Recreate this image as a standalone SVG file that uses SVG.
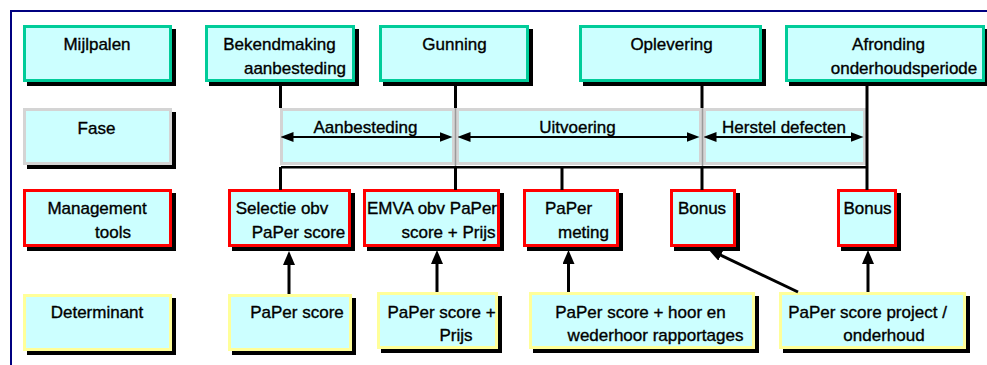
<svg xmlns="http://www.w3.org/2000/svg" width="987" height="365" viewBox="0 0 987 365">
  <style>
    text { font-family: "Liberation Sans", Arial, sans-serif; font-size: 17px; fill: #000; stroke: #000; stroke-width: 0.35; text-anchor: middle; }
    .shadow { fill: #000; }
    .box { fill: #CCFFFF; stroke-width: 3; }
    .mile { stroke: #00CC99; }
    .phase { stroke: #D4D4D4; }
    .tool { stroke: #FF0000; }
    .det { stroke: #FFFF99; }
    .link { stroke: #000; stroke-width: 3; fill: none; }
    .span { stroke: #000; stroke-width: 2; fill: none; marker-start: url(#head-s); marker-end: url(#head-s); }
    .arrow { stroke: #000; stroke-width: 3; fill: none; marker-end: url(#head-l); }
  </style>
  <defs>
    <marker id="head-s" viewBox="0 0 13 10" refX="9" refY="5" markerWidth="13" markerHeight="10" markerUnits="userSpaceOnUse" orient="auto-start-reverse">
      <path d="M0,0 L13,5 L0,10 z" fill="#000"/>
    </marker>
    <marker id="head-l" viewBox="0 0 14 12" refX="9" refY="6" markerWidth="14" markerHeight="12" markerUnits="userSpaceOnUse" orient="auto">
      <path d="M0,0 L14,6 L0,12 z" fill="#000"/>
    </marker>
  </defs>

  <rect width="987" height="365" fill="#fff"/>
  <!-- outer frame -->
  <path d="M11,366 V11 H988" fill="none" stroke="#000080" stroke-width="2"/>

  <!-- milestone row -->
  <g id="mijlpalen">
    <rect class="shadow" x="27" y="29" width="149" height="57"/>
    <rect class="box mile" x="24.5" y="26.5" width="146" height="54"/>
    <text x="97" y="50">Mijlpalen</text>
  </g>
  <g id="bekendmaking">
    <rect class="shadow" x="209" y="29" width="150" height="57"/>
    <rect class="box mile" x="206.5" y="26.5" width="147" height="54"/>
    <text x="279.5" y="50">Bekendmaking</text>
    <text x="295" y="73.5">aanbesteding</text>
  </g>
  <g id="gunning">
    <rect class="shadow" x="383" y="29" width="150" height="57"/>
    <rect class="box mile" x="380.5" y="26.5" width="147" height="54"/>
    <text x="454.5" y="50">Gunning</text>
  </g>
  <g id="oplevering">
    <rect class="shadow" x="583" y="29" width="183" height="57"/>
    <rect class="box mile" x="580.5" y="26.5" width="180" height="54"/>
    <text x="671.5" y="50">Oplevering</text>
  </g>
  <g id="afronding">
    <rect class="shadow" x="789" y="29" width="200" height="57"/>
    <rect class="box mile" x="786.5" y="26.5" width="197" height="54"/>
    <text x="888.5" y="50">Afronding</text>
    <text x="904" y="73.5">onderhoudsperiode</text>
  </g>

  <!-- phase row -->
  <g id="fase">
    <rect class="shadow" x="27" y="112" width="149" height="57"/>
    <rect class="box phase" x="24.5" y="109.5" width="146" height="54"/>
    <text x="96.5" y="134">Fase</text>
  </g>
  <g id="phase-bars">
    <rect class="shadow" x="281" y="166" width="587" height="2.5"/>
    <rect class="box phase" x="281.5" y="109.5" width="172" height="54"/>
    <rect class="box phase" x="457.5" y="109.5" width="243" height="54"/>
    <rect class="box phase" x="704.5" y="109.5" width="160" height="54"/>
    <line x1="455.5" y1="108" x2="455.5" y2="166" stroke="#9A9A9A" stroke-width="1.5"/>
    <line x1="702.5" y1="108" x2="702.5" y2="166" stroke="#9A9A9A" stroke-width="1.5"/>
  </g>
  <g id="aanbesteding">
    <text x="365.5" y="133">Aanbesteding</text>
  </g>
  <g id="uitvoering">
    <text x="577.5" y="133">Uitvoering</text>
  </g>
  <g id="herstel">
    <text x="784" y="133">Herstel defecten</text>
  </g>

  <!-- management tools row -->
  <g id="management">
    <rect class="shadow" x="27" y="193" width="149" height="58"/>
    <rect class="box tool" x="24.5" y="190.5" width="146" height="55"/>
    <text x="97" y="214">Management</text>
    <text x="113" y="238">tools</text>
  </g>
  <g id="selectie">
    <rect class="shadow" x="232" y="193" width="123" height="58"/>
    <rect class="box tool" x="229.5" y="190.5" width="120" height="55"/>
    <text x="282" y="214">Selectie obv</text>
    <text x="298.5" y="238">PaPer score</text>
  </g>
  <g id="emva">
    <rect class="shadow" x="367" y="193" width="137" height="58"/>
    <rect class="box tool" x="364.5" y="190.5" width="134" height="55"/>
    <text x="432" y="214">EMVA obv PaPer</text>
    <text x="448.5" y="238">score + Prijs</text>
  </g>
  <g id="meting">
    <rect class="shadow" x="527" y="193" width="96" height="58"/>
    <rect class="box tool" x="524.5" y="190.5" width="93" height="55"/>
    <text x="568.5" y="214">PaPer</text>
    <text x="583.5" y="238">meting</text>
  </g>
  <g id="bonus-1">
    <rect class="shadow" x="674" y="193" width="66" height="58"/>
    <rect class="box tool" x="671.5" y="190.5" width="63" height="55"/>
    <text x="702" y="214">Bonus</text>
  </g>
  <g id="bonus-2">
    <rect class="shadow" x="841" y="193" width="60" height="58"/>
    <rect class="box tool" x="838.5" y="190.5" width="57" height="55"/>
    <text x="867.5" y="214">Bonus</text>
  </g>

  <!-- determinant row -->
  <g id="determinant">
    <rect class="shadow" x="27" y="298" width="149" height="57"/>
    <rect class="box det" x="24.5" y="295.5" width="146" height="54"/>
    <text x="97" y="318">Determinant</text>
  </g>
  <g id="paper-score">
    <rect class="shadow" x="232" y="298" width="124" height="57"/>
    <rect class="box det" x="229.5" y="295.5" width="121" height="54"/>
    <text x="297" y="318">PaPer score</text>
  </g>
  <g id="paper-prijs">
    <rect class="shadow" x="381" y="296" width="121" height="57"/>
    <rect class="box det" x="378.5" y="293.5" width="118" height="54"/>
    <text x="441.5" y="318">PaPer score +</text>
    <text x="456" y="341">Prijs</text>
  </g>
  <g id="paper-hoor">
    <rect class="shadow" x="533" y="296" width="226" height="57"/>
    <rect class="box det" x="530.5" y="293.5" width="223" height="54"/>
    <text x="640.5" y="318">PaPer score + hoor en</text>
    <text x="655.5" y="341">wederhoor rapportages</text>
  </g>
  <g id="paper-project">
    <rect class="shadow" x="783" y="296" width="187" height="57"/>
    <rect class="box det" x="780.5" y="293.5" width="184" height="54"/>
    <text x="867.5" y="318">PaPer score project /</text>
    <text x="884" y="341">onderhoud</text>
  </g>

  <!-- connectors -->
  <g id="connectors">
    <line class="link" x1="280.5" y1="82" x2="280.5" y2="108"/>
    <line class="link" x1="280.5" y1="167" x2="280.5" y2="190"/>
    <line class="link" x1="455.5" y1="82" x2="455.5" y2="108"/>
    <line class="link" x1="455.5" y1="167" x2="455.5" y2="190"/>
    <line class="link" x1="702" y1="82" x2="702" y2="108"/>
    <line class="link" x1="702" y1="167" x2="702" y2="190"/>
    <line class="link" x1="867" y1="82" x2="867" y2="190"/>
    <line class="link" x1="562" y1="167" x2="562" y2="190"/>

    <line class="span" x1="284.5" y1="137" x2="448.5" y2="137"/>
    <line class="span" x1="461.5" y1="137" x2="695.5" y2="137"/>
    <line class="span" x1="707.5" y1="137" x2="859.5" y2="137"/>

    <line class="arrow" x1="289" y1="294" x2="289" y2="256"/>
    <line class="arrow" x1="437" y1="292" x2="437" y2="255"/>
    <line class="arrow" x1="568.5" y1="292" x2="568.5" y2="255"/>
    <line class="arrow" x1="868" y1="292" x2="868" y2="255"/>
    <line class="arrow" x1="798" y1="292" x2="712.8" y2="251.4"/>
  </g>
</svg>
